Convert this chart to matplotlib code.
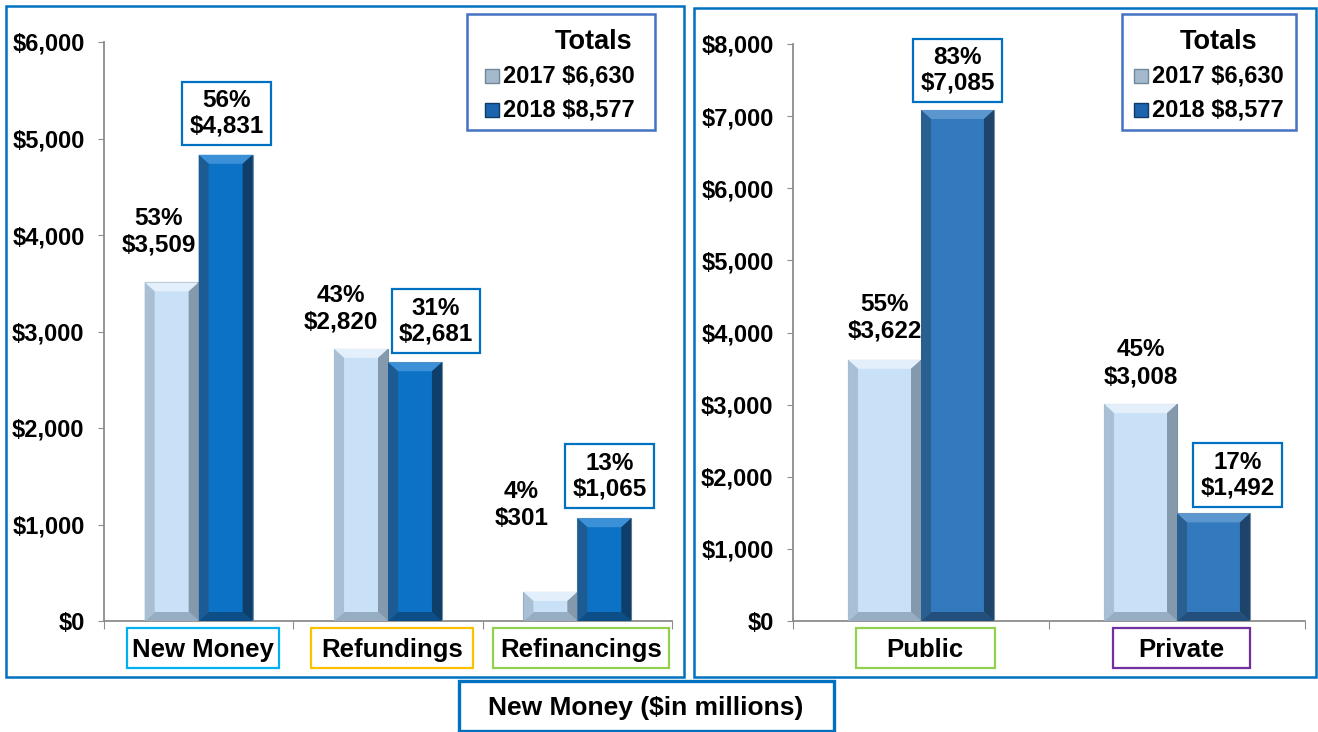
import matplotlib
matplotlib.use('Agg')
import matplotlib.pyplot as plt
from matplotlib.patches import Rectangle, Polygon
from matplotlib.ticker import FuncFormatter

plt.rcParams['font.family'] = ['Liberation Sans', 'DejaVu Sans']
plt.rcParams['font.weight'] = 'bold'

# data ($ in millions)
use_cats = ["New Money", "Refundings", "Refinancings"]
use_2017 = [3509, 2820, 301]
use_2018 = [4831, 2681, 1065]
use_pct_2017 = [53, 43, 4]
use_pct_2018 = [56, 31, 13]

type_cats = ["Public", "Private"]
type_2017 = [3622, 3008]
type_2018 = [7085, 1492]
type_pct_2017 = [55, 45]
type_pct_2018 = [83, 17]

years = ["2017", "2018"]
title = "New Money ($in millions)"

W, H = 1318, 732
BLUE = "#0070C0"


def frect(x0, y0, x1, y1):
  # pixel box (top-left origin) -> figure fraction rect
  return [x0 / W, 1 - y1 / H, (x1 - x0) / W, (y1 - y0) / H]


def bevel_bar(ax, x, w, h, cols, bx, by):
  face, top, left, right, bottom = cols
  ax.bar(x, h, w, color=face, edgecolor="#7d8fa3", linewidth=0.8, zorder=2)
  by = min(by, h / 3)
  x0, x1 = x - w / 2, x + w / 2
  polys = [
    ([(x0, h), (x1, h), (x1 - bx, h - by), (x0 + bx, h - by)], top),
    ([(x0, 0), (x1, 0), (x1 - bx, by), (x0 + bx, by)], bottom),
    ([(x0, 0), (x0, h), (x0 + bx, h - by), (x0 + bx, by)], left),
    ([(x1, 0), (x1, h), (x1 - bx, h - by), (x1 - bx, by)], right),
  ]
  for pts, c in polys:
    ax.add_patch(Polygon(pts, closed=True, facecolor=c, edgecolor="none", zorder=3))


def style_axis(ax, ymax, step, ncat):
  ax.set_xlim(-0.5, ncat - 0.5)
  ax.set_ylim(0, ymax)
  ax.set_yticks(range(0, ymax + 1, step))
  ax.yaxis.set_major_formatter(FuncFormatter(lambda v, p: "${:,.0f}".format(v)))
  ax.set_xticks([i - 0.5 for i in range(ncat + 1)])
  ax.set_xticklabels([])
  for s in ["top", "right"]:
    ax.spines[s].set_visible(False)
  for s in ["left", "bottom"]:
    ax.spines[s].set_color("#8c8c8c")
    ax.spines[s].set_linewidth(1.3)
  ax.tick_params(axis="y", length=4.5, color="#8c8c8c", labelsize=17, pad=9.5)
  ax.tick_params(axis="x", length=6, color="#8c8c8c")
  for t in ax.get_yticklabels():
    t.set_fontweight("bold")
  ax.patch.set_alpha(0)


def draw_panel(ax, cats, v17, v18, p17, p18, ymax, step, unit_px, y_px, dark_cols,
               off17, off18, box_cols, box_w):
  w = 0.285
  light_cols = ("#C9E1F6", "#E3F0FB", "#A9BFD4", "#8599AD", "#97ADC2")
  bx = 10.0 / unit_px
  by = 9.0 * ymax / y_px
  for i in range(len(cats)):
    bevel_bar(ax, i - w / 2, w, v17[i], light_cols, bx, by)
    bevel_bar(ax, i + w / 2, w, v18[i], dark_cols, bx, by)
    ax.annotate("{}%\n${:,}".format(p17[i], v17[i]), xy=(i - w / 2, v17[i]),
                xytext=off17[i], textcoords="offset pixels", ha="center", va="bottom",
                fontsize=17.5, fontweight="bold", linespacing=1.2, zorder=5)
    ax.annotate("{}%\n${:,}".format(p18[i], v18[i]), xy=(i + w / 2, v18[i]),
                xytext=off18[i], textcoords="offset pixels", ha="center", va="bottom",
                fontsize=17.5, fontweight="bold", linespacing=1.15, zorder=5,
                bbox=dict(boxstyle="square,pad=0.3", facecolor="white",
                          edgecolor=BLUE, linewidth=1.6))
  style_axis(ax, ymax, step, len(cats))
  # category labels in coloured boxes
  inv = fig.transFigure.inverted()
  for i, c in enumerate(cats):
    cx, cy = ax.transData.transform((i, 0))
    bw, bh = box_w[i], 40
    x0, y0 = inv.transform((cx + 4 - bw / 2, cy - 27 - bh / 2))
    fig.patches.append(Rectangle((x0, y0), bw / W, bh / H, transform=fig.transFigure,
                                 facecolor="white", edgecolor=box_cols[i], linewidth=1.6))
    fx, fy = inv.transform((cx + 4, cy - 29))
    fig.text(fx, fy, c, ha="center", va="center", fontsize=18.5, fontweight="bold")


def legend_box(x0, y0, x1, y1, tot_x, tot_ha, ent_x, mark_x):
  fig.patches.append(Rectangle(frect(x0, y0, x1, y1)[:2], (x1 - x0) / W, (y1 - y0) / H,
                               transform=fig.transFigure, facecolor="white",
                               edgecolor="#4472C4", linewidth=1.8, zorder=4))
  fig.text(tot_x / W, 1 - 42 / H, "Totals", ha=tot_ha, va="center", fontsize=19.5,
           fontweight="bold", zorder=5)
  totals = [sum(use_2017), sum(use_2018)]
  mcols = [("#A5B9CC", "#6F879D"), ("#1C64AE", "#0F3B66")]
  for k, (yr, tot) in enumerate(zip(years, totals)):
    yc = 76 + 34 * k
    fig.patches.append(Rectangle(frect(mark_x, yc - 7, mark_x + 14, yc + 7)[:2], 14 / W, 14 / H,
                                 transform=fig.transFigure, facecolor=mcols[k][0],
                                 edgecolor=mcols[k][1], linewidth=1.0, zorder=5))
    fig.text(ent_x / W, 1 - yc / H, "{} ${:,}".format(yr, tot), ha="left", va="center",
             fontsize=17, fontweight="bold", zorder=5)


fig = plt.figure(figsize=(13.18, 7.32), dpi=100)

# panel borders
fig.patches.append(Rectangle(frect(6, 6, 684, 677)[:2], 678 / W, 671 / H, transform=fig.transFigure,
                             facecolor="none", edgecolor=BLUE, linewidth=1.8))
fig.patches.append(Rectangle(frect(694, 8, 1316, 677)[:2], 622 / W, 669 / H, transform=fig.transFigure,
                             facecolor="none", edgecolor=BLUE, linewidth=1.8))

ax1 = fig.add_axes(frect(104, 42, 672, 621))
draw_panel(ax1, use_cats, use_2017, use_2018, use_pct_2017, use_pct_2018, 6000, 1000,
           189.3, 579.0,
           ("#0B72C5", "#3B90D7", "#1D5C93", "#0E3E69", "#0C4E85"),
           [(-13, 26), (-20, 15), (-29, 62)], [(1, 17), (21, 17), (5, 18)],
           ["#00B0F0", "#FFC000", "#92D050"], [152, 162, 176])

ax2 = fig.add_axes(frect(793, 44, 1305, 621))
draw_panel(ax2, type_cats, type_2017, type_2018, type_pct_2017, type_pct_2018, 8000, 1000,
           256.0, 577.0,
           ("#3279BE", "#5B96CF", "#2A5F92", "#1E4569", "#234F7C"),
           [(0, 17), (0, 16)], [(0, 15), (24, 14)],
           ["#92D050", "#7030A0"], [139, 137])

legend_box(467, 14, 655, 130, 632, "right", 503, 485)
legend_box(1122, 14, 1296, 130, 1180, "left", 1152, 1134)

# bottom title box
fig.patches.append(Rectangle(frect(459, 681, 834, 731)[:2], 375 / W, 50 / H, transform=fig.transFigure,
                             facecolor="white", edgecolor=BLUE, linewidth=2.4, zorder=6))
fig.text(646 / W, 1 - 708 / H, title, ha="center", va="center", fontsize=19,
         fontweight="bold", zorder=7)

plt.savefig("out.png", dpi=100)
